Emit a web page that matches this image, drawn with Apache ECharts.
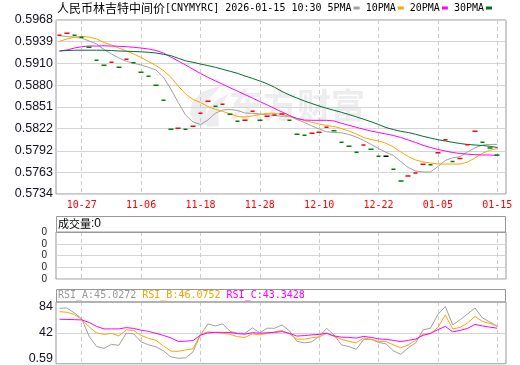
<!DOCTYPE html>
<html><head><meta charset="utf-8">
<script src="https://cdn.jsdelivr.net/npm/echarts@6/dist/echarts.min.js"></script>
<style>html,body{margin:0;padding:0;background:#fff}#c{width:520px;height:365px}</style>
</head><body><div id="c"></div>
<script>
// ---------------- data ----------------
const dates = ['10-22','10-23','10-24','10-27','10-28','10-29','10-30','10-31','11-03','11-04','11-05','11-06','11-07','11-10','11-11','11-12','11-13','11-14','11-17','11-18','11-19','11-20','11-21','11-24','11-25','11-26','11-27','11-28','12-01','12-02','12-03','12-04','12-05','12-08','12-09','12-10','12-11','12-12','12-15','12-16','12-17','12-18','12-19','12-22','12-23','12-24','12-25','12-26','12-29','12-30','12-31','01-05','01-06','01-07','01-08','01-09','01-12','01-13','01-14','01-15'];
const xLabels = ['10-27','11-06','11-18','11-28','12-10','12-22','01-05','01-15'];
const yTicks = [0.5734,0.5763,0.5792,0.5822,0.5851,0.5880,0.5910,0.5939,0.5968];
const rsiTicks = [0.59,42,84];
const price = [0.59474,0.59501,0.59474,0.59447,0.59313,0.59138,0.59071,0.59111,0.59044,0.59152,
 0.59106,0.58977,0.58923,0.58802,0.58600,0.58210,0.58224,0.58210,0.58251,0.58425,
 0.58587,0.58519,0.58546,0.58412,0.58318,0.58331,0.58452,0.58331,0.58385,0.58402,
 0.58416,0.58331,0.58143,0.58131,0.58158,0.58171,0.58237,0.58191,0.58035,0.57983,
 0.57901,0.57999,0.57941,0.57847,0.57847,0.57672,0.57515,0.57582,0.57622,0.57740,
 0.57733,0.57894,0.58069,0.57777,0.57817,0.58003,0.58185,0.58035,0.57959,0.57865];
const ma5 = [0.59469,0.59458,0.59449,0.59435,0.59398,0.59357,0.59283,0.59223,0.59169,0.59125,
 0.59098,0.59075,0.59044,0.59008,0.58913,0.58752,0.58571,0.58402,0.58308,0.58275,
 0.58335,0.58425,0.58470,0.58476,0.58463,0.58429,0.58425,0.58416,0.58405,0.58396,
 0.58385,0.58385,0.58342,0.58302,0.58257,0.58214,0.58177,0.58167,0.58164,0.58140,
 0.58107,0.58060,0.58006,0.57952,0.57901,0.57858,0.57777,0.57696,0.57649,0.57636,
 0.57636,0.57710,0.57791,0.57827,0.57844,0.57905,0.57961,0.57999,0.58006,0.58008];
const ma10 = [0.59391,0.59425,0.59449,0.59458,0.59451,0.59425,0.59377,0.59344,0.59303,0.59263,
 0.59223,0.59176,0.59122,0.59068,0.59001,0.58913,0.58792,0.58685,0.58611,0.58571,
 0.58517,0.58479,0.58450,0.58419,0.58382,0.58376,0.58389,0.58409,0.58425,0.58425,
 0.58409,0.58382,0.58355,0.58329,0.58304,0.58281,0.58261,0.58248,0.58221,0.58187,
 0.58147,0.58100,0.58073,0.58053,0.58022,0.57972,0.57905,0.57844,0.57797,0.57773,
 0.57757,0.57743,0.57743,0.57743,0.57743,0.57770,0.57824,0.57887,0.57928,0.57952];
const ma20 = [0.59263,0.59277,0.59303,0.59321,0.59330,0.59330,0.59333,0.59330,0.59326,0.59321,
 0.59313,0.59303,0.59290,0.59270,0.59236,0.59182,0.59129,0.59075,0.59017,0.58961,
 0.58909,0.58862,0.58815,0.58768,0.58723,0.58677,0.58631,0.58583,0.58537,0.58490,
 0.58443,0.58396,0.58355,0.58335,0.58331,0.58331,0.58331,0.58322,0.58291,0.58264,
 0.58237,0.58210,0.58187,0.58167,0.58147,0.58127,0.58100,0.58066,0.58033,0.57995,
 0.57965,0.57939,0.57918,0.57898,0.57885,0.57875,0.57869,0.57865,0.57865,0.57858];
const ma30 = [0.59263,0.59270,0.59273,0.59274,0.59274,0.59274,0.59273,0.59270,0.59263,0.59260,
 0.59256,0.59252,0.59246,0.59236,0.59219,0.59201,0.59165,0.59131,0.59111,0.59088,
 0.59067,0.59044,0.59017,0.58990,0.58963,0.58927,0.58895,0.58860,0.58822,0.58775,
 0.58718,0.58671,0.58631,0.58591,0.58557,0.58523,0.58493,0.58466,0.58439,0.58409,
 0.58378,0.58345,0.58312,0.58275,0.58234,0.58207,0.58183,0.58167,0.58143,0.58116,
 0.58093,0.58070,0.58053,0.58035,0.58019,0.58006,0.57999,0.57992,0.57982,0.57965];
const volume = [0,0,0,0,0,0,0,0,0,0,0,0,0,0,0,0,0,0,0,0,0,0,0,0,0,0,0,0,0,0,
 0,0,0,0,0,0,0,0,0,0,0,0,0,0,0,0,0,0,0,0,0,0,0,0,0,0,0,0,0,0];
const rsiA = [81.43,81.91,73.89,64.27,36.20,19.84,16.95,23.36,21.76,41.33,
 40.21,27.38,22.56,19.35,12.94,3.31,0.91,1.71,11.33,38.60,
 56.25,53.04,56.25,44.22,41.33,41.33,49.83,41.81,49.35,49.35,
 54.64,45.02,28.18,25.77,27.38,36.20,49.03,38.60,22.56,19.84,
 15.34,31.39,31.39,26.57,24.17,12.94,7.32,17.75,25.77,46.62,
 49.35,71.49,84.32,54.64,62.99,72.29,81.91,65.87,59.46,52.24];
const rsiB = [75.98,75.02,71.49,63.47,51.44,41.81,39.41,41.01,37.00,46.62,
 45.82,37.80,32.99,29.78,20.96,12.46,12.14,14.54,16.15,39.41,
 43.42,42.61,41.33,39.41,35.72,34.59,40.21,38.60,41.01,43.42,
 45.50,40.21,31.71,31.71,33.79,35.40,41.01,36.20,31.39,28.18,
 25.77,33.79,31.39,28.18,27.86,22.56,17.75,22.56,29.78,40.21,
 40.21,50.63,70.69,48.23,50.63,57.85,68.28,60.26,57.05,53.04];
const rsiC = [63.79,63.47,63.15,62.67,58.66,52.24,48.23,48.23,48.23,50.31,
 49.03,46.14,44.22,41.01,37.80,33.79,28.18,28.50,29.46,38.12,
 41.81,42.77,42.61,42.45,40.53,39.73,42.13,41.33,41.97,42.61,
 43.90,41.01,36.68,37.48,38.60,39.41,41.33,37.00,34.91,34.59,
 33.47,36.20,34.59,32.19,31.39,29.78,27.86,29.78,31.87,37.80,
 41.01,46.95,52.24,43.42,45.82,49.03,55.45,53.04,51.12,49.35];

// ---------------- chart ----------------
const UP = '#ff0000', DOWN = '#008000', FLAT = '#000000';
const candleData = price.map((v, i) => {
  const prev = i === 0 ? -Infinity : price[i - 1];
  const c = v > prev ? UP : (v < prev ? DOWN : FLAT);
  return { value: [i, v, v, v, v], itemStyle: { color: c, color0: c, borderColor: c, borderColor0: c, borderColorDoji: c } };
});
const pairs = arr => arr.map((v, i) => [i, v]);
const xTickIdx = xLabels.map(d => dates.indexOf(d));

const L = 56, W = 450;
const gridStyle = { show: true, borderColor: '#999', borderWidth: 1 };
function xAxisCfg(gi, showLabel) {
  return {
    type: 'value', gridIndex: gi, min: -0.47, max: 60.18,
    axisLine: { show: false },
    axisTick: { show: false, customValues: xTickIdx },
    axisLabel: { show: showLabel, customValues: xTickIdx, formatter: v => dates[Math.round(v)],
      color: '#ff0000', fontFamily: 'DejaVu Sans Mono', fontSize: 10, margin: 6 },
    splitLine: { show: true, lineStyle: { color: '#cccccc', type: [4, 3], width: 1 } }
  };
}
const lineS = (name, data, color, xi, yi) => ({
  type: 'line', name, data: pairs(data), xAxisIndex: xi, yAxisIndex: yi,
  symbol: 'none', smooth: false, lineStyle: { color, width: 1 }, itemStyle: { color },
  z: 3, silent: true
});

const option = {
  animation: false,
  backgroundColor: '#ffffff',
  title: [
    { left: 57, top: 0, padding: 0,
      text: '{cn|人民币林吉特中间价}{en|[CNYMYRC] 2026-01-15 10:30 5PMA}{g|}{s1|}{en| 10PMA}{g|}{s2|}{en| 20PMA}{g|}{s3|}{en| 30PMA}{g|}{s4|}',
      textStyle: { fontWeight: 'normal', lineHeight: 16, rich: {
        cn: { fontFamily: 'Noto Sans CJK SC', fontWeight: 'normal', fontSize: 12, color: '#000', lineHeight: 16 },
        en: { fontFamily: 'DejaVu Sans Mono', fontWeight: 'normal', fontSize: 10, color: '#000', lineHeight: 16 },
        g: { width: 2, height: 3 },
        s1: { width: 6, height: 3, backgroundColor: '#a0a0a0' },
        s2: { width: 6, height: 3, backgroundColor: '#ffa500' },
        s3: { width: 6, height: 3, backgroundColor: '#ff00ff' },
        s4: { width: 6, height: 3, backgroundColor: '#006f2f' }
      } } },
    { left: 58, top: 216, padding: 0,
      text: '{cn|成交量}{en|:0}',
      textStyle: { fontWeight: 'normal', lineHeight: 16, rich: {
        cn: { fontFamily: 'Noto Sans CJK SC', fontWeight: 'normal', fontSize: 11, color: '#000', lineHeight: 16 },
        en: { fontFamily: 'Liberation Sans', fontWeight: 'normal', fontSize: 12, color: '#000', lineHeight: 16 }
      } } },
    { left: 58, top: 289, padding: 0,
      text: '{a|RSI_A:45.0272 }{b|RSI_B:46.0752 }{c|RSI_C:43.3428}',
      textStyle: { fontWeight: 'normal', lineHeight: 13, rich: {
        a: { fontFamily: 'DejaVu Sans Mono', fontWeight: 'normal', fontSize: 10, color: '#999999', lineHeight: 13 },
        b: { fontFamily: 'DejaVu Sans Mono', fontWeight: 'normal', fontSize: 10, color: '#f5a300', lineHeight: 13 },
        c: { fontFamily: 'DejaVu Sans Mono', fontWeight: 'normal', fontSize: 10, color: '#ff00ff', lineHeight: 13 }
      } } }
  ],
  graphic: [
    { type: 'text', z: 0, silent: true, style: { text: '东方财富', x: 229, y: 105, verticalAlign: 'middle',
      font: 'bold 34px "Noto Sans CJK SC"', fill: '#ededf0' } },
    { type: 'polygon', z: 0, silent: true, shape: { points: [[196,127],[190,114],[192,102],[202,92],[222,85],[211,97],[206,108],[207,118],[210,124]] },
      style: { fill: '#ededf0' } },
    { type: 'polygon', z: 0, silent: true, shape: { points: [[207,127],[206,116],[210,106],[218,99],[229,94],[222,103],[218,112],[219,126]] },
      style: { fill: '#ededf0' } },
    { type: 'rect', z: 10, silent: true, shape: { x: L + 0.5, y: 216.5, width: W - 1, height: 16 }, style: { fill: 'none', stroke: '#999', lineWidth: 1 } },
    { type: 'rect', z: 10, silent: true, shape: { x: L + 0.5, y: 289.5, width: W - 1, height: 12.5 }, style: { fill: 'none', stroke: '#999', lineWidth: 1 } }
  ],
  grid: [
    Object.assign({ left: L, top: 20, width: W, height: 174 }, gridStyle),
    Object.assign({ left: L, top: 232, width: W, height: 47 }, gridStyle),
    Object.assign({ left: L, top: 302, width: W, height: 62 }, gridStyle)
  ],
  xAxis: [xAxisCfg(0, true), xAxisCfg(1, false), xAxisCfg(2, false)],
  yAxis: [
    { type: 'value', gridIndex: 0, min: 0.5734, max: 0.5968,
      axisLine: { show: false }, axisTick: { show: false, customValues: yTicks },
      axisLabel: { customValues: yTicks, formatter: v => v.toFixed(4), color: '#111122',
        fontFamily: 'Liberation Sans', fontSize: 12.5, margin: 3 },
      splitLine: { show: true, lineStyle: { color: '#d4d4d4', width: 1 } } },
    { type: 'value', gridIndex: 1, min: 0, max: 4, interval: 1,
      axisLine: { show: false }, axisTick: { show: false },
      axisLabel: { formatter: () => '0', color: '#222', fontFamily: 'Liberation Sans', fontSize: 10, margin: 9, padding: [0, 0, 4, 0] },
      splitLine: { show: true, lineStyle: { color: '#d4d4d4', width: 1 } } },
    { type: 'value', gridIndex: 2, min: -7.91, max: 91.54,
      axisLine: { show: false }, axisTick: { show: false, customValues: [42] },
      axisLabel: { customValues: rsiTicks, formatter: v => String(v), color: '#111122',
        fontFamily: 'Liberation Sans', fontSize: 12.5, margin: 3 },
      splitLine: { show: true, lineStyle: { color: '#d4d4d4', width: 1 } } }
  ],
  series: [
    { type: 'candlestick', name: 'CNYMYRC', xAxisIndex: 0, yAxisIndex: 0, data: candleData,
      barWidth: 5, itemStyle: { borderWidth: 1.5 }, z: 4, silent: true },
    lineS('5PMA', ma5, '#a0a0a0', 0, 0),
    lineS('10PMA', ma10, '#ffa500', 0, 0),
    lineS('20PMA', ma20, '#ff00ff', 0, 0),
    lineS('30PMA', ma30, '#006f2f', 0, 0),
    { type: 'bar', name: '成交量', xAxisIndex: 1, yAxisIndex: 1, data: pairs(volume), barWidth: 4, itemStyle: { color: '#ff0000' }, silent: true },
    lineS('RSI_A', rsiA, '#a0a0a0', 2, 2),
    lineS('RSI_B', rsiB, '#ffa500', 2, 2),
    lineS('RSI_C', rsiC, '#ff00ff', 2, 2)
  ]
};
const chart = echarts.init(document.getElementById('c'));
chart.setOption(option);
</script>
</body></html>
